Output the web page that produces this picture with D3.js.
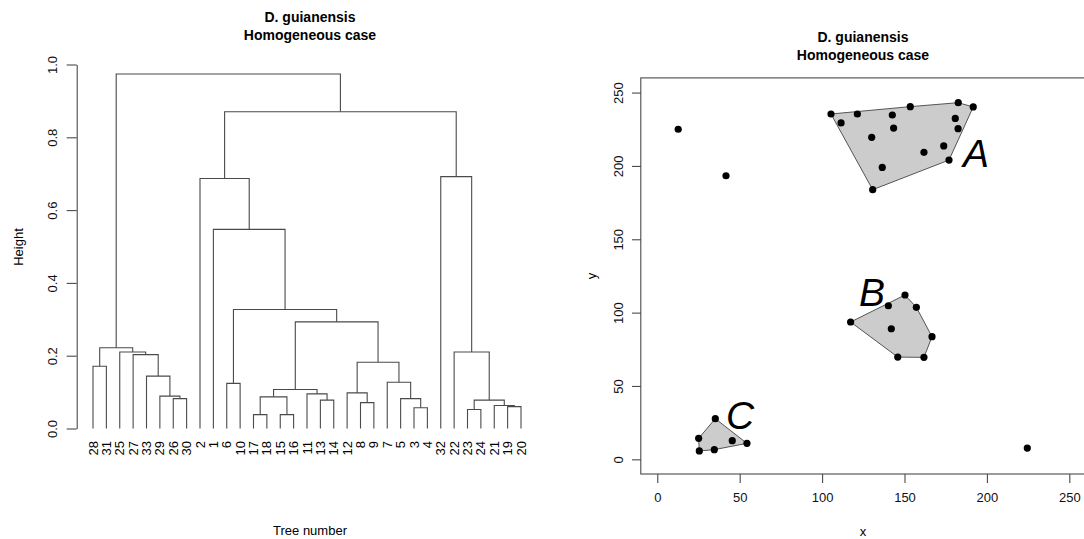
<!DOCTYPE html>
<html>
<head>
<meta charset="utf-8">
<script src="https://cdn.jsdelivr.net/npm/d3@7"></script>
<style>
body { margin: 0; background: #fff; }
svg { font-family: "Liberation Sans", Arial, sans-serif; }
</style>
</head>
<body>
<svg width="1084" height="539"></svg>
<script>
// dendrogram: leaf order and merges (R hclust style: negative = tree number, positive = earlier merge row)
const leafOrder = [28, 31, 25, 27, 33, 29, 26, 30, 2, 1, 6, 10, 17, 18, 15, 16, 11, 13, 14, 12, 8, 9, 7, 5, 3, 4, 32, 22, 23, 24, 21, 19, 20]
const merges = [
    [-26, -30, 0.082],
    [-29, 1, 0.089],
    [-33, 2, 0.144],
    [-27, 3, 0.203],
    [-25, 4, 0.210],
    [-28, -31, 0.171],
    [6, 5, 0.222],
    [-17, -18, 0.038],
    [-15, -16, 0.038],
    [8, 9, 0.087],
    [-13, -14, 0.078],
    [-11, 11, 0.095],
    [10, 12, 0.107],
    [-8, -9, 0.071],
    [-12, 14, 0.098],
    [-3, -4, 0.057],
    [-5, 16, 0.082],
    [-7, 17, 0.127],
    [15, 18, 0.182],
    [13, 19, 0.293],
    [-6, -10, 0.124],
    [21, 20, 0.327],
    [-1, 22, 0.547],
    [-2, 23, 0.687],
    [-19, -20, 0.060],
    [-21, 25, 0.063],
    [-23, -24, 0.052],
    [27, 26, 0.078],
    [-22, 28, 0.210],
    [-32, 29, 0.692],
    [24, 30, 0.870],
    [7, 31, 0.974]
]
const heightTicks = [0, 0.2, 0.4, 0.6, 0.8, 1.0]

// tree positions
const groupA = [[105.4, 235.4], [121.4, 235.4], [111.5, 229.3], [142.6, 234.7], [153.5, 240.4], [182.6, 243.1],
    [191.7, 240.2], [180.8, 232.4], [182.5, 225.4], [143.4, 225.8], [130.1, 219.5], [173.8, 213.6],
    [161.8, 209.3], [177, 204], [136.5, 199], [130.7, 183.8]]
const groupB = [[117.3, 93.6], [140.2, 104.7], [150.3, 112], [157.2, 103.6], [142, 89], [166.7, 83.6], [145.9, 69.7], [161.8, 69.5]]
const groupC = [[35.2, 27.7], [25.1, 14.3], [25.5, 5.7], [34.6, 6.6], [45.5, 12.7], [54.4, 10.9]]
const isolated = [[12.7, 225], [41.7, 193.3], [224.5, 7.7]]
const clusterLabels = [["A", 185.5, 199.2], ["B", 122.4, 104.5], ["C", 41.7, 20.4]]
const xyTicks = [0, 50, 100, 150, 200, 250]

const titleLines = ["D. guianensis", "Homogeneous case"]

function dendrogram(){
    const svg = d3.select("svg")
    const xScale = d3.scalePoint().domain(leafOrder).range([93, 521])
    const yScale = d3.scaleLinear().domain([0, 1]).range([428.5, 64.5])

    const nodes = []
    const pos = ref => ref < 0 ? {x: xScale(-ref), h: 0} : nodes[ref - 1]
    const g = svg.append("g").attr("id", "dendro")

    merges.forEach(([a, b, h]) => {
        const l = pos(a), r = pos(b)
        nodes.push({x: (l.x + r.x) / 2, h: h})
        g.append("path")
            .attr("d", d3.line()([[l.x, yScale(l.h)], [l.x, yScale(h)], [r.x, yScale(h)], [r.x, yScale(r.h)]]))
            .attr("fill", "none")
            .attr("stroke", "#4a4a4a")
            .attr("stroke-width", 1.1)
    })

    svg.append("g")
        .selectAll("text")
        .data(leafOrder)
        .enter()
        .append("text")
        .attr("transform", d => `translate(${xScale(d) + 4.6},441) rotate(-90)`)
        .attr("text-anchor", "end")
        .attr("font-size", 13)
        .text(d => d)

    const yAxis = d3.axisLeft(yScale).tickValues(heightTicks).tickFormat(d3.format(".1f")).tickSize(10).tickSizeOuter(0)
    svg.append("g")
        .attr("id", "heightAxis")
        .attr("transform", "translate(76.7,0)")
        .call(yAxis)
    styleAxis("#heightAxis")
    d3.select("#heightAxis").selectAll("text")
        .attr("x", null).attr("dy", null)
        .attr("transform", "translate(-20,0) rotate(-90)")
        .attr("text-anchor", "middle")

    addTitle(310, 22)
    svg.append("text").attr("x", 310).attr("y", 535).attr("text-anchor", "middle").attr("font-size", 13).text("Tree number")
    svg.append("text").attr("transform", "translate(23,247) rotate(-90)").attr("text-anchor", "middle").attr("font-size", 13).text("Height")
}

function scatter(){
    const svg = d3.select("svg")
    const xScale = d3.scaleLinear().domain([-10, 260]).range([640.8, 1085.8])
    const yScale = d3.scaleLinear().domain([-10, 260]).range([474, 77.9])

    svg.append("rect")
        .attr("x", xScale(-10))
        .attr("y", yScale(260))
        .attr("width", xScale(260) - xScale(-10))
        .attr("height", yScale(-10) - yScale(260))
        .attr("fill", "none")
        .attr("stroke", "#4a4a4a")
        .attr("stroke-width", 1.1)

    const hullG = svg.append("g").attr("id", "hulls")
    ;[groupA, groupB, groupC].forEach(group => {
        const hull = d3.polygonHull(group.map(d => [xScale(d[0]), yScale(d[1])]))
        hullG.append("path")
            .attr("d", "M" + hull.join("L") + "Z")
            .attr("fill", "#cccccc")
            .attr("stroke", "#555")
            .attr("stroke-width", 1)
    })

    svg.append("g")
        .selectAll("circle")
        .data(groupA.concat(groupB, groupC, isolated))
        .enter()
        .append("circle")
        .attr("cx", d => xScale(d[0]))
        .attr("cy", d => yScale(d[1]))
        .attr("r", 3.6)
        .style("fill", "black")

    svg.append("g")
        .selectAll("text")
        .data(clusterLabels)
        .enter()
        .append("text")
        .attr("x", d => xScale(d[1]))
        .attr("y", d => yScale(d[2]))
        .attr("font-size", 39)
        .attr("font-style", "italic")
        .text(d => d[0])

    const xAxis = d3.axisBottom(xScale).tickValues(xyTicks).tickSize(9)
    const yAxis = d3.axisLeft(yScale).tickValues(xyTicks).tickSize(9)

    svg.append("g").attr("id", "xAxisG").attr("transform", "translate(0,474)").call(xAxis)
    svg.append("g").attr("id", "yAxisG").attr("transform", "translate(641,0)").call(yAxis)
    styleAxis("#xAxisG")
    styleAxis("#yAxisG")
    d3.selectAll("#xAxisG path.domain, #yAxisG path.domain").style("display", "none")
    d3.select("#xAxisG").selectAll("text").attr("y", 19)
    d3.select("#yAxisG").selectAll("text")
        .attr("x", null).attr("dy", null)
        .attr("transform", "translate(-18.5,0) rotate(-90)")
        .attr("text-anchor", "middle")

    addTitle(863, 41.7)
    svg.append("text").attr("x", 863).attr("y", 536).attr("text-anchor", "middle").attr("font-size", 13).text("x")
    svg.append("text").attr("transform", "translate(595.5,276) rotate(-90)").attr("text-anchor", "middle").attr("font-size", 13).text("y")
}

function styleAxis(id){
    const axis = d3.select(id)
    axis.attr("font-family", null).attr("font-size", 13)
    axis.selectAll("line").attr("stroke", "#4a4a4a").attr("stroke-width", 1.1)
    axis.selectAll("path.domain").attr("stroke", "#4a4a4a").attr("stroke-width", 1.1)
    axis.selectAll("text").attr("fill", "#111")
}

function addTitle(cx, y){
    d3.select("svg")
        .append("g")
        .selectAll("text")
        .data(titleLines)
        .enter()
        .append("text")
        .attr("x", cx)
        .attr("y", (d, i) => y + i * 18)
        .attr("text-anchor", "middle")
        .attr("font-size", 14)
        .attr("font-weight", "bold")
        .text(d => d)
}

dendrogram()
scatter()
</script>
</body>
</html>
